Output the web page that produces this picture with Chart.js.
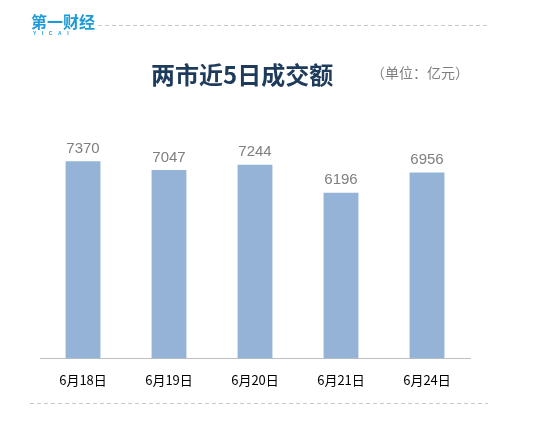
<!doctype html>
<html lang="zh">
<head>
<meta charset="utf-8">
<title>两市近5日成交额</title>
<script src="https://cdn.jsdelivr.net/npm/chart.js@4.4.1/dist/chart.umd.min.js"></script>
<style>
    html, body { margin: 0; padding: 0; background: #fff; }
    #wrap { width: 533px; height: 424px; }
</style>
</head>
<body>
<div id="wrap"><canvas id="chart" width="533" height="424"></canvas></div>
<script>
    var days = ["6月18日", "6月19日", "6月20日", "6月21日", "6月24日"];
    var volume = [7370, 7047, 7244, 6196, 6956];

    var cjk = '"Noto Sans CJK SC", "Microsoft YaHei", sans-serif';

    // header, footer and bar values
    var decor = {
        id: 'decor',
        afterDraw: function(chart) {
            var ctx = chart.ctx;
            ctx.save();

            // dashed rules
            ctx.strokeStyle = '#c8c8c8';
            ctx.lineWidth = 1;
            ctx.setLineDash([4, 3]);
            ctx.beginPath();
            ctx.moveTo(98, 25.5);
            ctx.lineTo(490, 25.5);
            ctx.moveTo(30, 403.5);
            ctx.lineTo(488, 403.5);
            ctx.stroke();
            ctx.setLineDash([]);

            // logo
            ctx.fillStyle = '#1e9bd7';
            ctx.font = 'bold 16px ' + cjk;
            ctx.textBaseline = 'middle';
            ctx.textAlign = 'left';
            ctx.fillText('第一财经', 31, 22);
            ctx.font = 'bold 5px "Liberation Sans", sans-serif';
            ctx.fillText('Y    I    C    A    I', 33, 34);

            // title
            ctx.fillStyle = '#1f3b5c';
            ctx.font = 'bold 24px ' + cjk;
            ctx.fillText('两市近5日成交额', 151, 75);
            ctx.fillStyle = '#7f7f7f';
            ctx.font = '14px ' + cjk;
            ctx.fillText('（单位：亿元）', 371, 73);

            // values above bars
            var meta = chart.getDatasetMeta(0);
            ctx.fillStyle = '#7f7f7f';
            ctx.font = '15px "Liberation Sans", Arial, sans-serif';
            ctx.textAlign = 'center';
            ctx.textBaseline = 'bottom';
            meta.data.forEach(function(bar, i) {
                ctx.fillText(volume[i], bar.x, bar.y - 5);
            });
            ctx.restore();
        }
    };

    new Chart(document.getElementById('chart').getContext('2d'), {
        type: 'bar',
        data: {
            labels: days,
            datasets: [{
                data: volume,
                backgroundColor: '#95b3d7',
                borderWidth: 0,
                barPercentage: 0.81,
                categoryPercentage: 0.5
            }]
        },
        options: {
            responsive: false,
            animation: false,
            layout: { padding: { left: 40, right: 63, top: 91, bottom: 22 } },
            plugins: {
                legend: { display: false },
                tooltip: { enabled: false }
            },
            scales: {
                x: {
                    grid: { display: false, drawTicks: false },
                    border: { display: true, color: '#bfbfbf', width: 1 },
                    ticks: {
                        color: '#000',
                        padding: 14,
                        font: { size: 13, family: cjk }
                    }
                },
                y: {
                    display: false,
                    min: 0,
                    max: 10000
                }
            }
        },
        plugins: [decor]
    });
</script>
</body>
</html>
